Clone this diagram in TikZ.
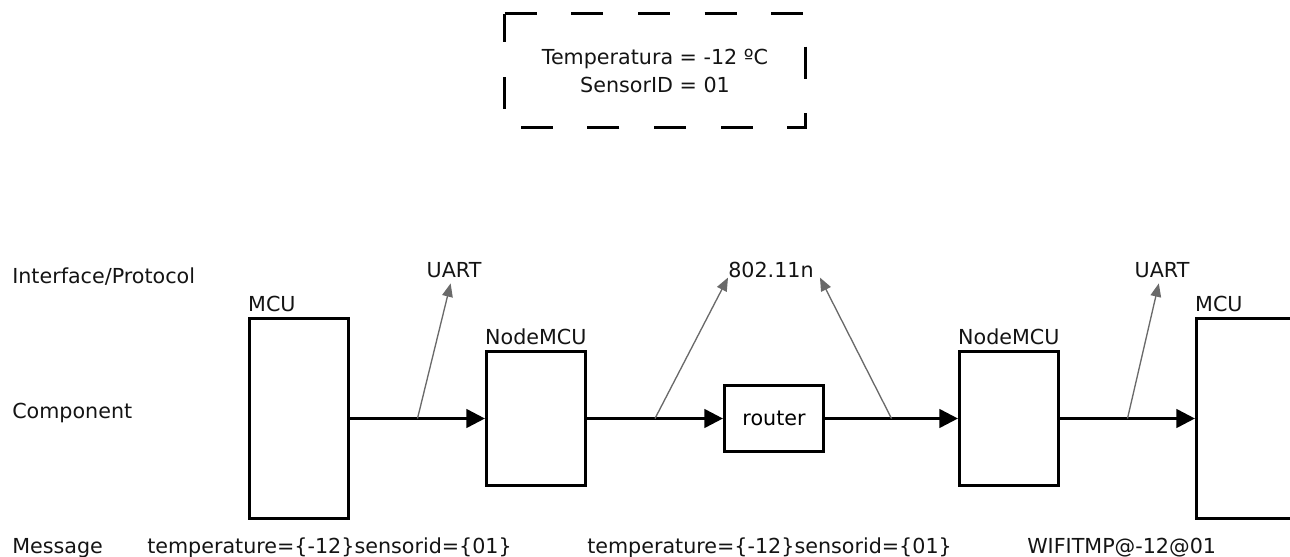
\documentclass[tikz,border=0pt]{standalone}
\usepackage{fontspec}
\setmainfont{DejaVu Sans}
\usepackage{xcolor}
\usetikzlibrary{arrows.meta,positioning}
\definecolor{msgInk}{HTML}{141414}
\definecolor{protoGray}{HTML}{6A6A6A}

\begin{document}
\begin{tikzpicture}[
    x=0.75pt, y=-0.75pt,
    font=\fontsize{15.5}{21}\selectfont,
    unit/.style={draw, line width=2.1pt, minimum width=74.5pt, inner sep=0pt},
    lbl/.style={inner sep=0pt, text=msgInk},
    flow/.style={-{Triangle[length=14pt, width=14pt]}, line width=2.1pt},
    proto/.style={-{Triangle[length=10pt, width=8pt]}, draw=protoGray, line width=1pt},
    dashbox/.style={line width=2.6pt, dash pattern=on 24pt off 26pt}]

    \useasboundingbox (0,0) rectangle (1290,557);

    % reading
    \node[lbl, align=center, minimum width=225pt, minimum height=84.75pt] (reading) at (655,70.5)
        {Temperatura = -12 ºC\\SensorID = 01};
    \draw[dashbox] (reading.north west) -- (reading.north east) -- (reading.south east)
        -- (reading.south west) -- cycle;

    % row captions
    \node[lbl, anchor=base west] (rowIface) at (12,283) {Interface/Protocol};
    \node[lbl, anchor=base west] (rowComp)  at (12,418) {Component};
    \node[lbl, anchor=base west] (rowMsg)   at (12,553) {Message};

    % components
    \node[unit, minimum height=150pt]    (mcuA)   at (299,418.5)  {};
    \node[unit, minimum height=100.5pt]  (nodeA)  at (536,418.5)  {};
    \node[unit, minimum height=49.5pt]   (router) at (774,418.5)  {router};
    \node[unit, minimum height=100.5pt]  (nodeB)  at (1009,418.5) {};
    \node[unit, minimum height=150pt]    (mcuB)   at (1246,418.5) {};

    \node[lbl, above right=3.5pt and 0pt of mcuA.north west]  (mcuAname)  {MCU};
    \node[lbl, above right=3.5pt and 0pt of nodeA.north west] (nodeAname) {NodeMCU};
    \node[lbl, above right=3.5pt and 0pt of nodeB.north west] (nodeBname) {NodeMCU};
    \node[lbl, above right=3.5pt and 0pt of mcuB.north west]  (mcuBname)  {MCU};

    \draw[flow] (mcuA)   -- coordinate (tapA) (nodeA);
    \draw[flow] (nodeA)  -- coordinate (tapB) (router);
    \draw[flow] (router) -- coordinate (tapC) (nodeB);
    \draw[flow] (nodeB)  -- coordinate (tapD) (mcuB);

    % interfaces
    \node[lbl, anchor=base]      (uartA) at (454,277)  {UART};
    \node[lbl, anchor=base west] (wifi)  at (728,277)  {802.11n};
    \node[lbl, anchor=base]      (uartB) at (1162,277) {UART};

    \draw[proto, shorten >=4.5pt] (tapA) -- (uartA);
    \draw[proto] (tapB) -- (wifi.south west);
    \draw[proto] (tapC) -- ([xshift=4.5pt]wifi.south east);
    \draw[proto, shorten >=4.5pt] (tapD) -- (uartB);

    % messages
    \node[lbl, anchor=base west] (msgA) at (147,553)  {temperature=\{-12\}sensorid=\{01\}};
    \node[lbl, anchor=base west] (msgB) at (587,553)  {temperature=\{-12\}sensorid=\{01\}};
    \node[lbl, anchor=base west] (msgC) at (1027,553) {WIFITMP@-12@01};
\end{tikzpicture}
\end{document}
